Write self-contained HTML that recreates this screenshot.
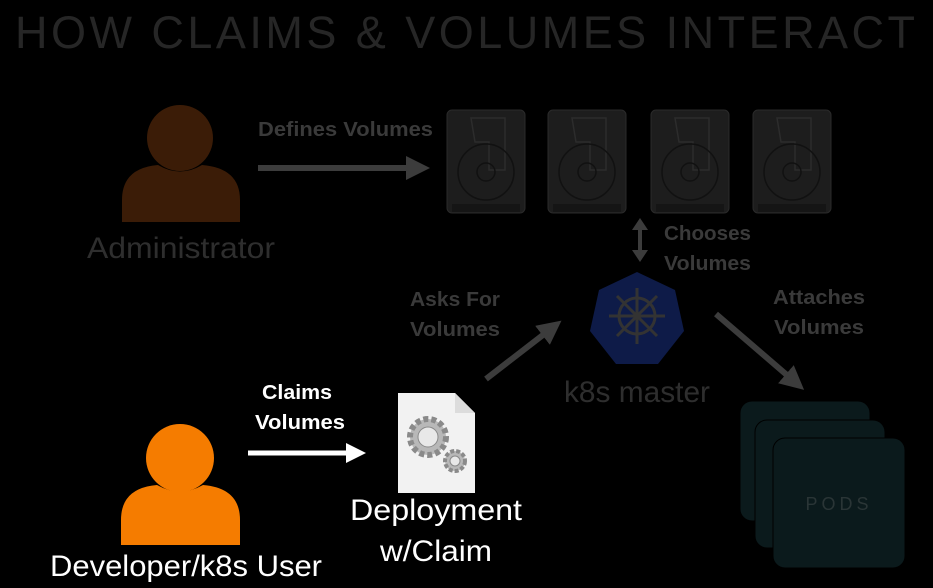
<!DOCTYPE html>
<html><head><meta charset="utf-8"><style>
html,body{margin:0;padding:0;background:#000;width:933px;height:588px;overflow:hidden}
svg text{font-family:"Liberation Sans","DejaVu Sans",sans-serif}
</style></head><body>
<svg width="933" height="588" viewBox="0 0 933 588" xmlns="http://www.w3.org/2000/svg">
<defs>
<marker id="ag" markerWidth="4" markerHeight="4" refX="2" refY="2" orient="auto" markerUnits="strokeWidth"><path d="M0,0 L4,2 L0,4z" fill="#3c3c3c"/></marker>
<marker id="aw" markerWidth="4" markerHeight="4" refX="2" refY="2" orient="auto" markerUnits="strokeWidth"><path d="M0,0 L4,2 L0,4z" fill="#fff"/></marker>
<g id="disk">
<rect x="0" y="0" width="78" height="103" rx="5" fill="#1d1d1d" stroke="#2a2a2a"/>
<path d="M24,8 H58 V60 H42 V32 H28 Z" fill="none" stroke="#2c2c2c" stroke-width="1.5"/>
<circle cx="39" cy="62" r="28" fill="none" stroke="#111" stroke-width="1.5"/>
<circle cx="39" cy="62" r="9" fill="none" stroke="#111" stroke-width="1.5"/>
<rect x="5" y="94" width="68" height="8" fill="#151515"/>
</g>
</defs>
<text x="15" y="48" font-size="45" fill="#262626" textLength="900" lengthAdjust="spacing">HOW CLAIMS &amp; VOLUMES INTERACT</text>

<!-- Administrator -->
<circle cx="180" cy="138" r="33" fill="#3b1c07"/>
<path d="M122,222 V200 Q122,168 158,165 Q180,178 202,165 Q240,168 240,200 V222 Z" fill="#3b1c07"/>
<text x="181" y="258" font-size="30" fill="#2e2e2e" text-anchor="middle" textLength="188" lengthAdjust="spacingAndGlyphs">Administrator</text>

<text x="258" y="136" font-size="20" font-weight="bold" fill="#3a3a3a" textLength="175" lengthAdjust="spacingAndGlyphs">Defines Volumes</text>
<line x1="258" y1="168" x2="418" y2="168" stroke="#3c3c3c" stroke-width="6" marker-end="url(#ag)"/>

<use href="#disk" x="447" y="110"/>
<use href="#disk" x="548" y="110"/>
<use href="#disk" x="651" y="110"/>
<use href="#disk" x="753" y="110"/>

<line x1="640" y1="228" x2="640" y2="252" stroke="#3c3c3c" stroke-width="4"/>
<path d="M632,230 L640,218 L648,230Z M632,250 L640,262 L648,250Z" fill="#3c3c3c"/>
<text x="664" y="240" font-size="20" font-weight="bold" fill="#3a3a3a" textLength="87" lengthAdjust="spacingAndGlyphs">Chooses</text>
<text x="664" y="270" font-size="20" font-weight="bold" fill="#3a3a3a" textLength="87" lengthAdjust="spacingAndGlyphs">Volumes</text>

<polygon points="637,272 675,290 684,331 658,364 616,364 590,331 599,290" fill="#0e1b48"/>
<g stroke="#333" stroke-width="3" fill="none">
<circle cx="637" cy="316" r="18"/>
<line x1="637" y1="288" x2="637" y2="344"/><line x1="609" y1="316" x2="665" y2="316"/>
<line x1="617" y1="296" x2="657" y2="336"/><line x1="657" y1="296" x2="617" y2="336"/>
</g>
<circle cx="637" cy="316" r="4" fill="#333"/>
<text x="637" y="402" font-size="30" fill="#2e2e2e" text-anchor="middle" textLength="146" lengthAdjust="spacingAndGlyphs">k8s master</text>

<text x="455" y="306" font-size="20" font-weight="bold" fill="#3a3a3a" text-anchor="middle" textLength="90" lengthAdjust="spacingAndGlyphs">Asks For</text>
<text x="455" y="336" font-size="20" font-weight="bold" fill="#3a3a3a" text-anchor="middle" textLength="90" lengthAdjust="spacingAndGlyphs">Volumes</text>
<line x1="486" y1="379" x2="552" y2="328" stroke="#3c3c3c" stroke-width="6" marker-end="url(#ag)"/>

<text x="819" y="304" font-size="20" font-weight="bold" fill="#3a3a3a" text-anchor="middle" textLength="92" lengthAdjust="spacingAndGlyphs">Attaches</text>
<text x="819" y="334" font-size="20" font-weight="bold" fill="#3a3a3a" text-anchor="middle" textLength="90" lengthAdjust="spacingAndGlyphs">Volumes</text>
<line x1="716" y1="314" x2="795" y2="382" stroke="#3c3c3c" stroke-width="6" marker-end="url(#ag)"/>

<rect x="740" y="401" width="130" height="120" rx="12" fill="#0b1a1c" stroke="#000" stroke-width="1"/>
<rect x="755" y="420" width="130" height="128" rx="12" fill="#0b1a1c" stroke="#000" stroke-width="1"/>
<rect x="773" y="438" width="132" height="130" rx="12" fill="#0b1a1c" stroke="#000" stroke-width="1"/>
<text x="839" y="510" font-size="18" fill="#2a3536" text-anchor="middle" letter-spacing="4">PODS</text>

<circle cx="180" cy="458" r="34" fill="#f57c00"/>
<path d="M121,545 V520 Q121,488 157,485 Q180,498 203,485 Q240,488 240,520 V545 Z" fill="#f57c00"/>
<text x="186" y="576" font-size="30" fill="#fff" text-anchor="middle" textLength="272" lengthAdjust="spacingAndGlyphs">Developer/k8s User</text>

<text x="297" y="399" font-size="20" font-weight="bold" fill="#fff" text-anchor="middle" textLength="70" lengthAdjust="spacingAndGlyphs">Claims</text>
<text x="300" y="429" font-size="20" font-weight="bold" fill="#fff" text-anchor="middle" textLength="90" lengthAdjust="spacingAndGlyphs">Volumes</text>
<line x1="248" y1="453" x2="356" y2="453" stroke="#fff" stroke-width="5" marker-end="url(#aw)"/>

<path d="M398,393 H455 L475,413 V493 H398 Z" fill="#f2f2f2"/>
<path d="M455,393 V413 H475" fill="#dcdcdc"/>
<g fill="#b8b8b8" stroke="#8a8a8a">
<circle cx="428" cy="437" r="18" stroke-dasharray="5 3" stroke-width="6"/>
<circle cx="428" cy="437" r="10" fill="#e8e8e8"/>
<circle cx="455" cy="461" r="10" stroke-dasharray="4 2" stroke-width="4"/>
<circle cx="455" cy="461" r="5" fill="#e8e8e8"/>
</g>
<text x="436" y="520" font-size="30" fill="#fff" text-anchor="middle" textLength="172" lengthAdjust="spacingAndGlyphs">Deployment</text>
<text x="436" y="561" font-size="30" fill="#fff" text-anchor="middle" textLength="112" lengthAdjust="spacingAndGlyphs">w/Claim</text>
</svg>
</body></html>
